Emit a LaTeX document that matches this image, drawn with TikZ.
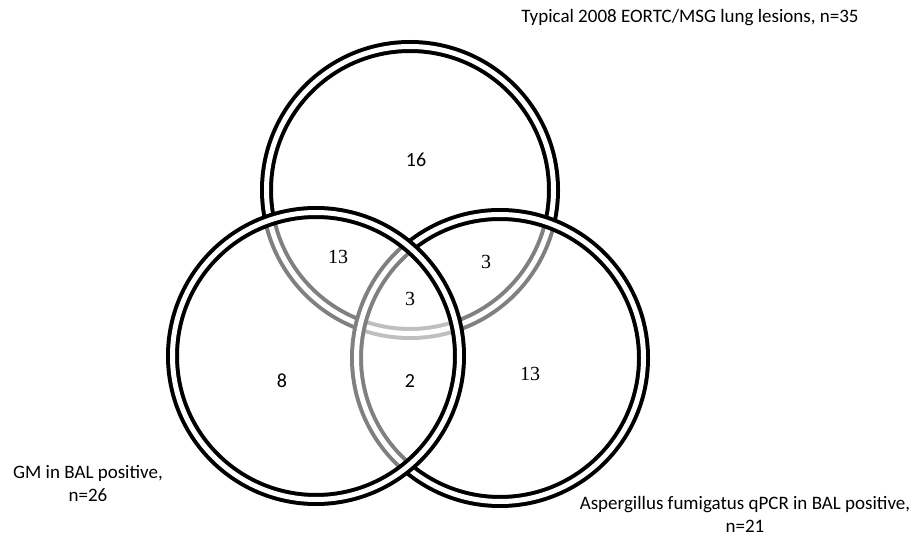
\documentclass[tikz,border=0pt]{standalone}
\usepackage{fontspec}
\setmainfont{Carlito}
\newfontfamily\numserif{Liberation Serif}
\usetikzlibrary{positioning}

\begin{document}
\begin{tikzpicture}[
    x=1pt, y=-1pt,
    set/.style={circle, draw=black, double=white, double distance=5pt, line width=4pt, minimum size=287pt, inner sep=0pt},
    veil/.style={fill=white, fill opacity=0.5},
    count/.style={font=\fontsize{20}{22}\selectfont, inner sep=1pt},
    tcount/.style={font=\numserif\fontsize{20}{22}\selectfont, inner sep=1pt},
    setname/.style={font=\fontsize{19}{23}\selectfont, align=center, inner sep=0pt}
]
\useasboundingbox (0,0) rectangle (921,537);

% the three sets, later ones veil the earlier ones
\node (lesions) [set] at (410,190) {};
\node (qpcr) [set, veil] at (500,358) {};
\node (gm) [set, veil] at (316,356) {};

% counts
\node (only_lesions) [count] at (416,160) {16};
\node (gm_lesions) [tcount] at (338,257) {13};
\node (qpcr_lesions) [tcount] at (486,262) {3};
\node (all_three) [tcount] at (410,299) {3};
\node (only_gm) [count] at (282,381) {8};
\node (gm_qpcr) [count] at (410,381) {2};
\node (only_qpcr) [tcount] at (530,374) {13};

% set names
\node (lesions_name) [setname] at (690,18) {Typical 2008 EORTC/MSG lung lesions, n=35};
\node (gm_name) [setname] at (88,483) {GM in BAL positive,\\n=26};
\node (qpcr_name) [setname] at (745,514) {Aspergillus fumigatus qPCR in BAL positive,\\n=21};

\end{tikzpicture}
\end{document}
